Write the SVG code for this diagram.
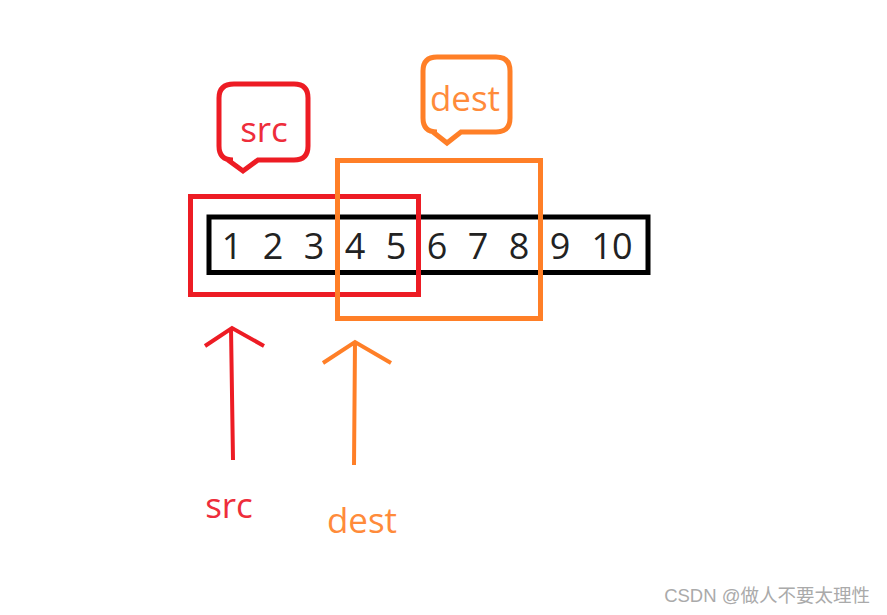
<svg xmlns="http://www.w3.org/2000/svg" width="887" height="615" viewBox="0 0 887 615">
<style>
.red{stroke:#ED1C24;fill:none;stroke-width:5}
.org{stroke:#FF7F27;fill:none;stroke-width:5}
.arrR{stroke:#ED1C24;fill:none;stroke-width:4;stroke-linejoin:miter}
.arrO{stroke:#FF7F27;fill:none;stroke-width:4}
.num{font-family:"Open Sans","Noto Sans",sans-serif;font-size:36px;fill:#222;text-anchor:middle}
.lbl{font-family:"Open Sans","Noto Sans",sans-serif;font-size:35px;text-anchor:middle}
</style>
<rect width="887" height="615" fill="#fff"/>
<g id="array">
<rect x="209" y="217" width="439" height="55.5" fill="none" stroke="#000" stroke-width="5"/>
<text class="num" x="232" y="259">1</text>
<text class="num" x="273" y="259">2</text>
<text class="num" x="314" y="259">3</text>
<text class="num" x="355" y="259">4</text>
<text class="num" x="396" y="259">5</text>
<text class="num" x="437" y="259">6</text>
<text class="num" x="478" y="259">7</text>
<text class="num" x="519" y="259">8</text>
<text class="num" x="560" y="259">9</text>
<text class="num" x="612" y="259">10</text>
</g>
<g id="src-box"><rect class="red" x="190.5" y="196.5" width="228" height="98"/></g>
<g id="dest-box"><rect class="org" x="337.5" y="160.5" width="203" height="158"/></g>
<g id="src-callout">
<path class="red" stroke-width="4" d="M234,84 H294 Q308,84 308,98 V146 Q308,160 294,160 H258 L243,171 L228,160 H233 Q219,160 219,146 V98 Q219,84 234,84 Z"/>
<text class="lbl" x="264" y="142" fill="#EE2D3B">src</text>
</g>
<g id="dest-callout">
<path class="org" stroke-width="4" d="M437,57 H496 Q510,57 510,71 V118 Q510,132 496,132 H461 L447,143 L433,132 H437 Q423,132 423,118 V71 Q423,57 437,57 Z"/>
<text class="lbl" x="465" y="111" fill="#FF8B3A">dest</text>
</g>
<g id="connectors">
<path class="arrR" d="M233,460 L231,328 M205,346 L232,328 L264,346"/>
<path class="arrO" d="M354,465 L355,342 M323,363 L355,342 L391,363"/>
</g>
<g id="src-label"><text class="lbl" x="229" y="518" font-size="31" fill="#EE2D3B">src</text></g>
<g id="dest-label"><text class="lbl" x="362" y="533" font-size="31" fill="#FF8B3A">dest</text></g>
<text x="870" y="602" text-anchor="end" font-family="'Liberation Sans','Noto Sans CJK SC',sans-serif" font-size="18.5" fill="#aaa">CSDN @做人不要太理性</text>
</svg>
